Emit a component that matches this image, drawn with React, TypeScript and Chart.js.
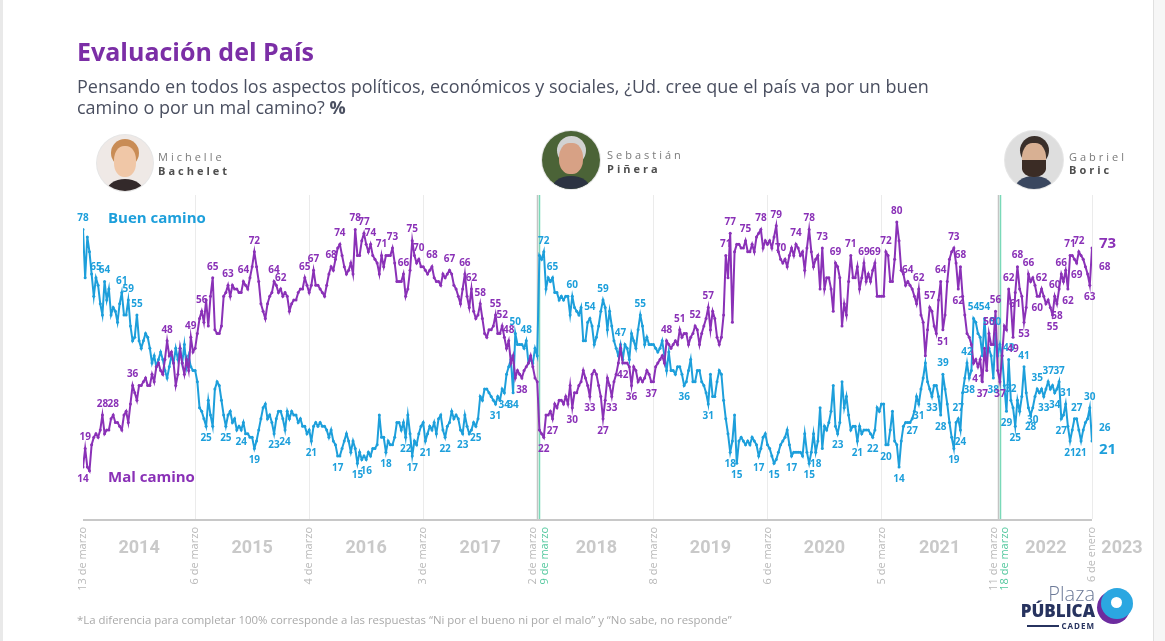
import React, { useEffect, useRef } from 'react';
import { Chart, registerables } from 'chart.js';

Chart.register(...registerables);

// ---------- DATA ----------
const periodStarts = ['2014-03-13', '2015-03-06', '2016-03-04', '2017-03-03', '2018-03-09', '2019-03-08', '2020-03-06', '2021-03-05', '2022-03-18'];
const lastDate = '2023-01-06';

const buen2014 = [78,65,76,72,66,60,65,63,58,55,64,59,62,55,57,56,53,58,61,55,55,59,52,48,49,55,48,46,48,50,49,46,42,44,41,43,45,43,40,38,41,44,42,46,43,46,42,47,41,44,41,40];
const mal2014 = [14,19,14,13,20,22,23,22,24,28,23,24,24,27,28,26,26,25,24,28,29,26,31,36,34,32,36,36,37,38,36,36,39,37,41,42,40,39,43,48,44,45,42,36,39,46,42,39,43,40,49,45];
const buen2015 = [40,37,30,29,27,25,32,28,25,35,37,36,32,28,25,28,29,26,27,24,25,24,26,23,23,22,22,19,21,24,27,30,31,27,28,26,23,27,29,29,27,24,29,27,29,28,28,26,27,25,25,23];
const mal2015 = [46,50,54,56,53,59,52,60,65,51,50,50,52,60,61,63,60,63,62,62,61,61,64,63,62,65,68,72,68,64,58,56,54,58,60,61,64,63,61,62,60,61,60,56,58,59,59,61,62,62,65,63];
const buen2016 = [24,21,25,26,25,26,25,25,24,22,24,21,20,17,17,19,21,23,21,18,21,19,15,18,16,17,16,18,17,19,19,20,28,22,22,18,21,20,20,22,26,26,24,26,22,28,23,17,21,20,23,25];
const mal2016 = [61,63,67,63,63,62,61,60,63,66,68,67,70,73,74,71,68,66,67,69,66,78,71,71,75,77,74,72,74,71,70,69,66,71,68,71,71,71,73,69,64,64,64,66,60,62,67,75,71,69,70,68];
const buen2017 = [26,21,23,25,24,26,23,27,28,24,22,25,26,29,27,28,27,24,23,28,25,23,24,26,25,27,33,32,35,35,34,33,32,31,33,32,35,34,39,41,43,34,50,47,47,47,46,48,42,43,42,46,44];
const mal2017 = [68,67,66,67,68,65,64,64,63,66,65,66,67,66,63,62,60,58,62,66,60,57,62,56,54,55,58,54,50,49,51,51,52,55,50,50,52,49,46,48,42,44,38,40,39,38,40,41,42,44,41,38,37];
const buen2018 = [71,70,72,62,65,64,65,61,61,59,60,59,60,60,55,60,57,56,55,57,48,48,53,54,52,47,49,52,56,59,57,51,56,52,48,46,44,47,43,47,46,43,50,48,46,51,55,52,47,49,47,47];
const mal2018 = [24,23,22,28,28,29,27,31,30,32,32,31,33,31,36,30,34,34,36,37,40,38,36,33,39,40,39,36,33,27,32,38,36,33,37,39,42,46,42,42,42,41,36,41,40,37,38,37,38,40,39,37];
const buen2019 = [47,46,45,46,48,44,40,45,40,40,39,41,41,39,36,37,40,43,37,37,40,40,37,36,34,31,39,33,33,37,40,39,32,27,23,18,21,28,15,21,22,21,20,21,20,22,21,20,17,19,22,23];
const mal2019 = [37,41,42,43,44,42,48,47,46,47,48,47,51,49,50,50,47,49,50,52,51,47,50,52,54,57,51,56,54,49,47,49,55,71,65,77,53,72,74,74,73,73,75,72,72,74,72,76,77,78,73,75];
const buen2020 = [20,19,17,15,16,18,20,21,22,24,20,17,18,18,18,18,17,23,18,15,18,23,18,21,30,19,25,24,26,29,36,25,23,26,37,30,33,28,24,25,25,21,25,23,24,24,24,23,22,24,30,29];
const mal2020 = [74,75,73,76,79,72,70,69,70,68,71,73,71,74,73,71,72,67,73,78,72,68,70,71,62,73,62,65,65,62,56,69,68,65,52,58,55,64,71,65,65,68,62,65,69,64,66,64,67,69,60,60];
const buen2021 = [31,31,20,20,24,29,21,20,14,21,25,26,26,26,27,29,33,31,35,38,42,37,35,33,36,36,33,28,39,35,31,26,22,19,26,27,24,34,38,42,38,40,54,53,50,49,44,54,44,46,44,38,50,44];
const mal2021 = [60,60,72,71,64,64,70,80,75,67,66,63,64,63,62,60,58,62,55,53,44,51,57,56,52,50,59,64,51,55,64,70,72,73,69,62,68,60,55,50,49,47,42,43,41,43,37,46,40,50,47,47,56,40];
const buen2022 = [47,44,36,29,43,32,30,25,32,29,33,41,34,30,28,30,33,35,34,35,33,35,37,35,36,34,35,37,27,28,31,25,21,24,27,27,24,21,24,26,27,30,21];
const mal2022 = [37,44,52,51,62,58,49,61,68,62,60,53,57,66,64,65,63,60,60,62,60,58,59,57,55,60,58,62,66,64,67,62,71,71,70,69,72,71,70,68,66,63,73];

const buenPeriods = [buen2014, buen2015, buen2016, buen2017, buen2018, buen2019, buen2020, buen2021, buen2022];
const malPeriods = [mal2014, mal2015, mal2016, mal2017, mal2018, mal2019, mal2020, mal2021, mal2022];

// labelled points: [period, index, above/below]
const buenLabels: [number, number, string][] = [
  [0,0,'a'],[0,6,'a'],[0,10,'a'],[0,18,'a'],[0,21,'a'],[0,25,'a'],
  [1,5,'b'],[1,14,'b'],[1,21,'b'],[1,27,'b'],[1,36,'b'],[1,41,'b'],
  [2,1,'b'],[2,13,'b'],[2,22,'b'],[2,26,'b'],[2,35,'b'],[2,44,'b'],[2,47,'b'],
  [3,1,'b'],[3,10,'b'],[3,18,'b'],[3,24,'b'],[3,33,'b'],[3,37,'b'],[3,41,'b'],[3,42,'a'],[3,47,'a'],
  [4,2,'a'],[4,6,'a'],[4,15,'a'],[4,23,'a'],[4,29,'a'],[4,37,'a'],[4,46,'a'],
  [5,14,'b'],[5,25,'b'],[5,35,'b'],[5,38,'b'],[5,48,'b'],
  [6,3,'b'],[6,11,'b'],[6,19,'b'],[6,22,'b'],[6,32,'b'],[6,41,'b'],[6,48,'b'],
  [7,2,'b'],[7,8,'b'],[7,14,'b'],[7,17,'b'],[7,23,'b'],[7,27,'b'],[7,28,'a'],[7,33,'b'],[7,35,'a'],[7,36,'b'],[7,39,'a'],[7,40,'b'],[7,42,'a'],[7,47,'a'],[7,51,'b'],[7,52,'a'],
  [8,3,'b'],[8,4,'a'],[8,5,'a'],[8,7,'b'],[8,11,'a'],[8,14,'b'],[8,15,'b'],[8,17,'a'],[8,20,'b'],[8,22,'a'],[8,25,'b'],[8,27,'a'],[8,28,'b'],[8,30,'a'],[8,32,'b'],[8,35,'a'],[8,37,'b'],[8,41,'a'],
];
const malLabels: [number, number, string][] = [
  [0,0,'b'],[0,1,'a'],[0,9,'a'],[0,14,'a'],[0,23,'a'],[0,39,'a'],[0,50,'a'],
  [1,3,'a'],[1,8,'a'],[1,15,'a'],[1,22,'a'],[1,27,'a'],[1,36,'a'],[1,39,'a'],[1,50,'a'],
  [2,2,'a'],[2,10,'a'],[2,14,'a'],[2,21,'a'],[2,25,'a'],[2,28,'a'],[2,33,'a'],[2,38,'a'],[2,43,'a'],[2,47,'a'],[2,50,'a'],
  [3,4,'a'],[3,12,'a'],[3,19,'a'],[3,22,'a'],[3,26,'a'],[3,33,'a'],[3,36,'a'],[3,39,'a'],[3,45,'b'],
  [4,2,'b'],[4,6,'b'],[4,15,'b'],[4,23,'b'],[4,29,'b'],[4,33,'b'],[4,38,'b'],[4,42,'b'],[4,51,'b'],
  [5,6,'a'],[5,12,'a'],[5,19,'a'],[5,25,'a'],[5,33,'a'],[5,35,'a'],[5,42,'a'],[5,49,'a'],
  [6,4,'a'],[6,6,'a'],[6,13,'a'],[6,19,'a'],[6,25,'a'],[6,31,'a'],[6,38,'a'],[6,44,'a'],[6,49,'a'],
  [7,2,'a'],[7,7,'a'],[7,12,'a'],[7,17,'a'],[7,22,'a'],[7,27,'a'],[7,28,'b'],[7,33,'a'],[7,35,'b'],[7,36,'a'],[7,44,'b'],[7,46,'b'],[7,49,'a'],[7,52,'a'],
  [8,0,'b'],[8,4,'a'],[8,6,'b'],[8,7,'b'],[8,8,'a'],[8,11,'b'],[8,13,'a'],[8,17,'b'],[8,19,'a'],[8,24,'b'],[8,25,'a'],[8,26,'b'],[8,28,'a'],[8,31,'b'],[8,32,'a'],[8,35,'b'],[8,36,'a'],[8,41,'b'],
];
const malSideValue = 68;
const buenSideValue = 26;

const tickDates = ['2014-03-13', '2015-03-06', '2016-03-04', '2017-03-03', '2018-03-02', '2018-03-09', '2019-03-08', '2020-03-06', '2021-03-05', '2022-03-11', '2022-03-18', '2023-01-06'];
const tickLabels = ['13 de marzo', '6 de marzo', '4 de marzo', '3 de marzo', '2 de marzo', '9 de marzo', '8 de marzo', '6 de marzo', '5 de marzo', '11 de marzo', '18 de marzo', '6 de enero'];
const tickKind = ['first', 'year', 'year', 'year', 'end', 'start', 'year', 'year', 'year', 'end', 'start', 'year'];
const yearLabels = ['2014', '2015', '2016', '2017', '2018', '2019', '2020', '2021', '2022', '2023'];

// ---------- HELPERS ----------
const ORIGIN = Date.parse(periodStarts[0]);
const day = (s: string) => (Date.parse(s) - ORIGIN) / 86400000;
const TOTAL = day(lastDate);

function buildPoints(periods: number[][]) {
  const pts: { x: number; y: number }[] = [];
  periods.forEach((vals, k) => {
    const start = day(periodStarts[k]);
    const step = k < periods.length - 1
      ? (day(periodStarts[k + 1]) - start) / vals.length
      : (TOTAL - start) / (vals.length - 1);
    vals.forEach((v, i) => pts.push({ x: start + i * step, y: v }));
  });
  return pts;
}
function offsets(periods: number[][]) {
  const o: number[] = [];
  let acc = 0;
  periods.forEach((p) => { o.push(acc); acc += p.length; });
  return o;
}

const PURPLE = '#8a31b7';
const BLUE = '#1d9fdb';
const FONT = "'Open Sans', 'DejaVu Sans', sans-serif";

const overlay = {
  id: 'overlay',
  beforeDatasetsDraw(chart: any) {
    const { ctx, chartArea, scales } = chart;
    const x = scales.x;
    ctx.save();
    tickDates.forEach((d, i) => {
      if (tickKind[i] === 'first') return;
      const px = Math.round(x.getPixelForValue(day(d))) + 0.5;
      ctx.beginPath();
      ctx.lineWidth = tickKind[i] === 'year' ? 1 : 1.5;
      ctx.strokeStyle = tickKind[i] === 'start' ? '#7ad9b8' : tickKind[i] === 'end' ? '#c4c4c4' : '#ebebeb';
      ctx.moveTo(px, chartArea.top);
      ctx.lineTo(px, chartArea.bottom);
      ctx.stroke();
    });
    ctx.beginPath();
    ctx.strokeStyle = '#c8c8c8';
    ctx.lineWidth = 2;
    ctx.moveTo(chartArea.left, chartArea.bottom + 1);
    ctx.lineTo(chartArea.right, chartArea.bottom + 1);
    ctx.stroke();
    ctx.restore();
  },
  afterDatasetsDraw(chart: any) {
    const { ctx, chartArea, scales } = chart;
    const x = scales.x;
    const y = scales.y;
    ctx.save();
    // tick date labels
    ctx.font = `11px ${FONT}`;
    tickDates.forEach((d, i) => {
      let px = x.getPixelForValue(day(d));
      if (tickKind[i] === 'end') px -= 4;
      if (tickKind[i] === 'start') px += 5;
      ctx.save();
      ctx.translate(px, chartArea.bottom + 8);
      ctx.rotate(-Math.PI / 2);
      ctx.textAlign = 'right';
      ctx.textBaseline = 'middle';
      ctx.fillStyle = tickKind[i] === 'start' ? '#55c99f' : '#b9b9b9';
      ctx.fillText(tickLabels[i], 0, 0);
      ctx.restore();
    });
    // year labels
    const yearTicks = tickDates.filter((_, i) => tickKind[i] !== 'end');
    const endTicks = tickDates.filter((_, i) => tickKind[i] !== 'start');
    ctx.font = `bold 18px Roboto, ${FONT}`;
    ctx.fillStyle = '#c9c9c9';
    ctx.textAlign = 'center';
    ctx.textBaseline = 'middle';
    yearLabels.forEach((yl, i) => {
      let px;
      if (i < yearTicks.length - 1) {
        px = (x.getPixelForValue(day(yearTicks[i])) + x.getPixelForValue(day(endTicks[i + 1]))) / 2;
      } else {
        px = x.getPixelForValue(TOTAL) + 30;
      }
      ctx.fillText(yl, px, chartArea.bottom + 29);
    });
    // data labels
    const drawLabels = (dsIndex: number, periods: number[][], list: [number, number, string][], color: string) => {
      const meta = chart.getDatasetMeta(dsIndex);
      const off = offsets(periods);
      ctx.fillStyle = color;
      ctx.font = `bold 10px ${FONT}`;
      ctx.textAlign = 'center';
      ctx.textBaseline = 'middle';
      list.forEach(([p, i, pos]) => {
        const el = meta.data[off[p] + i];
        if (!el) return;
        const v = periods[p][i];
        ctx.fillText(String(v), el.x, pos === 'a' ? el.y - 11 : el.y + 12);
      });
      // final big label
      const lastEl = meta.data[meta.data.length - 1];
      const lp = periods[periods.length - 1];
      ctx.font = `bold 15px ${FONT}`;
      ctx.textAlign = 'left';
      ctx.fillText(String(lp[lp.length - 1]), lastEl.x + 7, dsIndex === 0 ? lastEl.y - 4 : lastEl.y + 9);
    };
    drawLabels(1, buenPeriods, buenLabels, BLUE);
    drawLabels(0, malPeriods, malLabels, PURPLE);
    // side labels
    ctx.font = `bold 10px ${FONT}`;
    ctx.textAlign = 'left';
    ctx.fillStyle = PURPLE;
    ctx.fillText(String(malSideValue), x.getPixelForValue(TOTAL) + 7, y.getPixelForValue(malSideValue) + 1);
    ctx.fillStyle = BLUE;
    ctx.fillText(String(buenSideValue), x.getPixelForValue(TOTAL) + 7, y.getPixelForValue(buenSideValue) + 6);
    ctx.restore();
  },
};

function Avatar(props: { cx: number; cy: number; r: number; bg: string; hair: string; face: string; body: string; beard?: string }) {
  const { cx, cy, r, bg, hair, face, body, beard } = props;
  const d = r * 2;
  return (
    <div style={{ position: 'absolute', left: cx - r, top: cy - r, width: d, height: d, borderRadius: '50%', overflow: 'hidden', background: bg, boxShadow: '0 0 0 1px #e6e6e6' }}>
      <div style={{ position: 'absolute', left: d * 0.16, top: d * 0.78, width: d * 0.68, height: d * 0.5, borderRadius: '50% 50% 0 0', background: body }} />
      <div style={{ position: 'absolute', left: d * 0.25, top: d * 0.08, width: d * 0.5, height: d * 0.5, borderRadius: '50%', background: hair }} />
      <div style={{ position: 'absolute', left: d * 0.3, top: d * 0.2, width: d * 0.4, height: d * 0.55, borderRadius: '45%', background: face }} />
      {beard ? <div style={{ position: 'absolute', left: d * 0.3, top: d * 0.5, width: d * 0.4, height: d * 0.3, borderRadius: '0 0 50% 50%', background: beard }} /> : null}
    </div>
  );
}

const nameTop: React.CSSProperties = { position: 'absolute', fontFamily: FONT, fontSize: 11, letterSpacing: 3, color: '#7a7a7a', lineHeight: '14px', whiteSpace: 'nowrap' };
const nameBottom: React.CSSProperties = { ...nameTop, fontWeight: 700, color: '#4f4f4f' };

export default function App() {
  const ref = useRef<HTMLCanvasElement>(null);
  useEffect(() => {
    const canvas = ref.current;
    if (!canvas) return;
    const chart = new Chart(canvas, {
      type: 'line',
      data: {
        datasets: [
          { label: 'Mal camino', data: buildPoints(malPeriods), borderColor: PURPLE, backgroundColor: PURPLE, pointBackgroundColor: PURPLE, borderWidth: 2, pointRadius: 1.5, pointBorderWidth: 0, tension: 0 },
          { label: 'Buen camino', data: buildPoints(buenPeriods), borderColor: BLUE, backgroundColor: BLUE, pointBackgroundColor: BLUE, borderWidth: 2, pointRadius: 1.5, pointBorderWidth: 0, tension: 0 },
        ],
      },
      options: {
        responsive: false,
        maintainAspectRatio: false,
        animation: false,
        events: [],
        layout: { padding: { left: 83, right: 73, top: 195, bottom: 122 } },
        scales: {
          x: { type: 'linear', min: 0, max: TOTAL, display: false },
          y: { type: 'linear', min: 0, max: 87.3, display: false },
        },
        plugins: { legend: { display: false }, tooltip: { enabled: false } },
      } as any,
      plugins: [overlay],
    });
    return () => chart.destroy();
  }, []);

  return (
    <div style={{ position: 'absolute', left: 0, top: 0, width: 1165, height: 641, background: '#ffffff', overflow: 'hidden', fontFamily: FONT }}>
      <div style={{ position: 'absolute', left: 0, top: 0, width: 3, height: 641, background: '#e9e9e9' }} />
      <div style={{ position: 'absolute', left: 1153, top: 0, width: 12, height: 641, background: '#f6f6f6', borderLeft: '1px solid #e0e0e0' }} />
      <canvas ref={ref} width={1165} height={641} style={{ position: 'absolute', left: 0, top: 0, width: 1165, height: 641 }} />
      <div style={{ position: 'absolute', left: 77, top: 35, fontSize: 25, fontWeight: 700, color: '#7b2ea6', lineHeight: '32px', whiteSpace: 'nowrap' }}>Evaluación del País</div>
      <div style={{ position: 'absolute', left: 77, top: 76, fontSize: 18, color: '#4a4f60', lineHeight: '21px', width: 960 }}>
        Pensando en todos los aspectos políticos, económicos y sociales, ¿Ud. cree que el país va por un buen<br />camino o por un mal camino? <b>%</b>
      </div>
      <Avatar cx={125} cy={163} r={28} bg="#efe9e6" hair="#c98c55" face="#f0c7a7" body="#33292a" />
      <div style={{ ...nameTop, left: 158, top: 150 }}>Michelle</div>
      <div style={{ ...nameBottom, left: 158, top: 164 }}>Bachelet</div>
      <Avatar cx={571} cy={160} r={29} bg="#4b6337" hair="#d2d2d2" face="#d7a185" body="#2c3342" />
      <div style={{ ...nameTop, left: 607, top: 148 }}>Sebastián</div>
      <div style={{ ...nameBottom, left: 607, top: 162 }}>Piñera</div>
      <Avatar cx={1034} cy={160} r={29} bg="#dedede" hair="#3a2f2a" face="#d8b093" body="#3a475f" beard="#3b2c25" />
      <div style={{ ...nameTop, left: 1069, top: 150 }}>Gabriel</div>
      <div style={{ ...nameBottom, left: 1069, top: 163 }}>Boric</div>
      <div style={{ position: 'absolute', left: 108, top: 207, fontSize: 15, fontWeight: 700, color: BLUE, lineHeight: '20px', whiteSpace: 'nowrap' }}>Buen camino</div>
      <div style={{ position: 'absolute', left: 108, top: 466, fontSize: 15, fontWeight: 700, color: PURPLE, lineHeight: '20px', whiteSpace: 'nowrap' }}>Mal camino</div>
      <div style={{ position: 'absolute', left: 77, top: 612, fontSize: 11.4, color: '#a9a9a9', lineHeight: '16px', whiteSpace: 'nowrap' }}>
        *La diferencia para completar 100% corresponde a las respuestas “Ni por el bueno ni por el malo” y “No sabe, no responde”
      </div>
      <div style={{ position: 'absolute', right: 1165 - 1095, top: 583, fontSize: 20, fontWeight: 300, color: '#6c7a98', lineHeight: '22px', whiteSpace: 'nowrap' }}>Plaza</div>
      <div style={{ position: 'absolute', right: 1165 - 1095, top: 601, fontSize: 17, fontWeight: 800, color: '#27335f', lineHeight: '20px', whiteSpace: 'nowrap' }}>PÚBLICA</div>
      <div style={{ position: 'absolute', right: 1165 - 1095, top: 621, fontSize: 8, fontWeight: 700, color: '#27335f', lineHeight: '10px', letterSpacing: 1, whiteSpace: 'nowrap' }}>CADEM</div>
      <div style={{ position: 'absolute', left: 1027, top: 625, width: 32, height: 2, background: '#27335f' }} />
      <div style={{ position: 'absolute', left: 1097, top: 591, width: 33, height: 33, borderRadius: '50%', background: '#6d2c9f' }} />
      <div style={{ position: 'absolute', left: 1101, top: 588, width: 32, height: 31, borderRadius: '50%', background: '#2ba7e1' }} />
      <div style={{ position: 'absolute', left: 1111, top: 597, width: 11, height: 11, borderRadius: '50%', background: '#ffffff' }} />
    </div>
  );
}
